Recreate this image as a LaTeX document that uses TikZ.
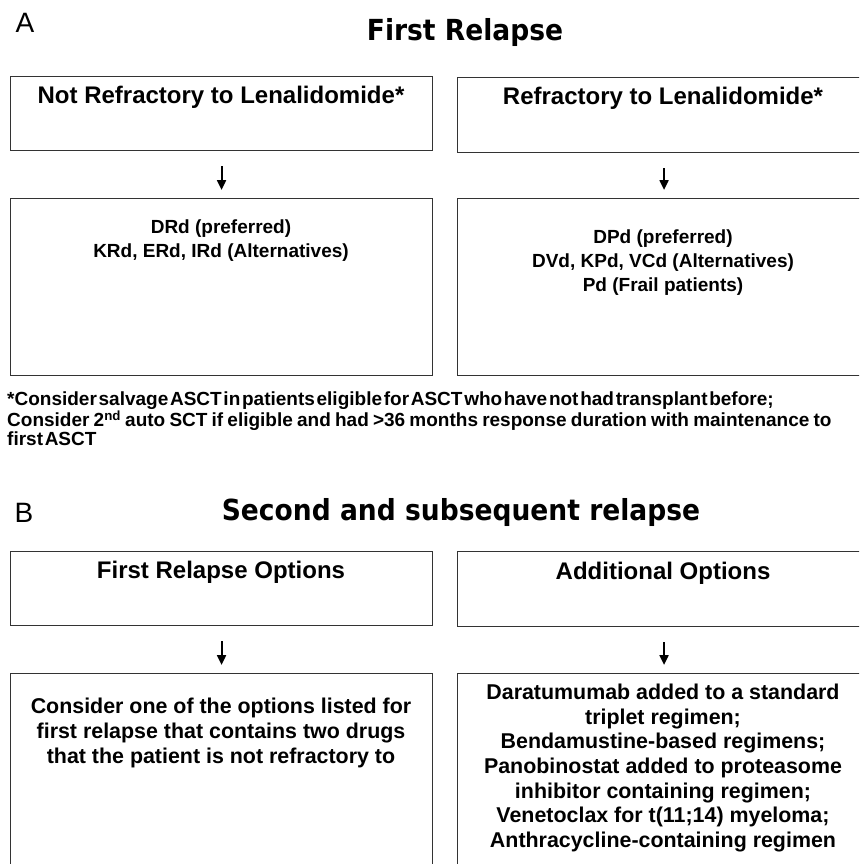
\documentclass[tikz,border=0pt]{standalone}
\usepackage{fontspec}
\setmainfont{Liberation Sans}
\newfontfamily\titlefont[FakeStretch=0.915]{DejaVu Sans}
\usetikzlibrary{arrows.meta}
\tikzset{
  box/.style={draw=black!80, line width=1.1pt, fill=white, inner sep=0pt, anchor=north west},
  head/.style={font=\fontsize{24}{27}\selectfont\bfseries, inner sep=0pt, align=center},
  small/.style={font=\fontsize{19}{24}\selectfont\bfseries, inner sep=0pt, align=center},
  big/.style={font=\fontsize{21.4}{24.6}\selectfont\bfseries, inner sep=0pt, align=center},
  ttl/.style={font=\titlefont\fontsize{29}{32}\selectfont\bfseries, inner sep=0pt},
  lbl/.style={font=\fontsize{28}{30}\selectfont, inner sep=0pt},
  arr/.style={line width=2pt, -{Triangle[length=10pt,width=9pt]}, shorten <=15pt, shorten >=8pt},
}
\begin{document}
\begin{tikzpicture}[x=1pt,y=-1pt]
\clip (0,0) rectangle (859,864);
\fill[white] (0,0) rectangle (859,864);
% Panel A
\node[lbl] (la) at (25,23) {A};
\node[ttl] (ta) at (465,33) {First Relapse};
\node[box, minimum width=422pt, minimum height=74pt] (a1) at (10,76) {};
\node[box, minimum width=413pt, minimum height=75pt] (a2) at (457,77) {};
\node[box, minimum width=422pt, minimum height=177pt] (a3) at (10,198) {};
\node[box, minimum width=413pt, minimum height=177pt] (a4) at (457,198) {};
\node[head] (a1t) at (221,97) {Not Refractory to Lenalidomide*};
\node[head] (a2t) at (663,98) {Refractory to Lenalidomide*};
\node[small] (a3t) at (221,241) {DRd (preferred)\\KRd, ERd, IRd (Alternatives)};
\node[small] (a4t) at (663,263) {DPd (preferred)\\DVd, KPd, VCd (Alternatives)\\Pd (Frail patients)};
\draw[arr] (a1.south) -- (a3.north);
\draw[arr] (a2.south) -- (a4.north);
\node[font=\fontsize{19}{17.6}\selectfont\bfseries, inner sep=0pt, align=left, anchor=north west] (fn) at (7,392)
  {\spaceskip=0.09em\relax *Consider salvage ASCT in patients eligible for ASCT who have not had transplant before;\\
   \spaceskip=0.22em\relax Consider 2\textsuperscript{nd} auto SCT if eligible and had >36 months response duration with maintenance to\\
   \spaceskip=0.09em\relax first ASCT};
% Panel B
\node[lbl] (lb) at (24,513) {B};
\node[ttl] (tb) at (461,512) {Second and subsequent relapse};
\node[box, minimum width=422pt, minimum height=74pt] (b1) at (10,551) {};
\node[box, minimum width=413pt, minimum height=75pt] (b2) at (457,551) {};
\node[box, minimum width=422pt, minimum height=240pt] (b3) at (10,673) {};
\node[box, minimum width=413pt, minimum height=240pt] (b4) at (457,673) {};
\node[head] (b1t) at (221,572) {First Relapse Options};
\node[head] (b2t) at (663,573) {Additional Options};
\node[big] (b3t) at (221,733) {Consider one of the options listed for\\first relapse that contains two drugs\\that the patient is not refractory to};
\node[big] (b4t) at (663,768) {Daratumumab added to a standard\\triplet regimen;\\Bendamustine-based regimens;\\Panobinostat added to proteasome\\inhibitor containing regimen;\\Venetoclax for t(11;14) myeloma;\\Anthracycline-containing regimen};
\draw[arr] (b1.south) -- (b3.north);
\draw[arr] (b2.south) -- (b4.north);
\end{tikzpicture}
\end{document}
